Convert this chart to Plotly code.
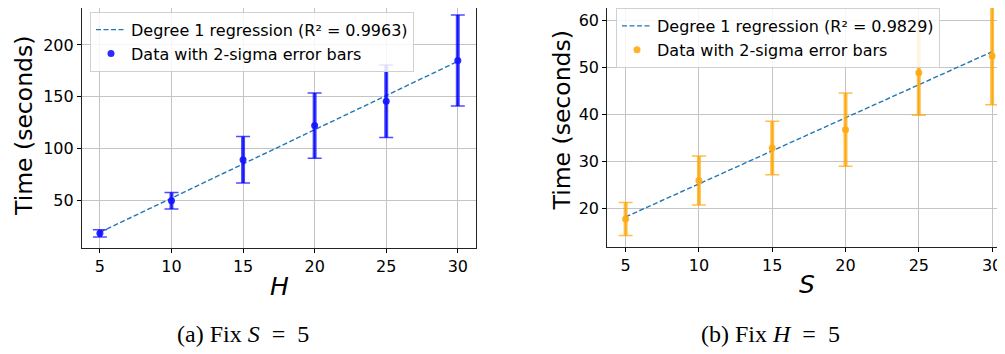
import numpy as np
import plotly.graph_objects as go

# ---- data ----
H_vals = [5, 10, 15, 20, 25, 30]
time_H = [17.8, 49.3, 89.0, 122.0, 145.5, 185.0]
err_H = [3.5, 8.0, 22.5, 31.5, 35.0, 44.0]
r2_H = "0.9963"

S_vals = [5, 10, 15, 20, 25, 30]
time_S = [17.8, 26.0, 32.9, 36.8, 48.9, 52.5]
err_S = [3.5, 5.2, 5.7, 7.8, 9.0, 10.4]
r2_S = "0.9829"

yticks_H = [50, 100, 150, 200]
yticks_S = [20, 30, 40, 50, 60]
xticks = [5, 10, 15, 20, 25, 30]

W, Hh = 1005, 354
OFF = 8  # page body margin offset
FONT = "DejaVu Sans"


def fit(x, y):
    c = np.polyfit(x, y, 1)
    return list(np.polyval(c, x))


fig = go.Figure()


def add_panel(x, y, e, r2, col_bar, col_pt, xa, ya, leg):
    fig.add_trace(go.Scatter(x=x, y=fit(x, y), mode="lines",
                             line=dict(color="#1f77b4", width=1.4, dash="5px,2.5px"),
                             name=f"Degree 1 regression (R² = {r2})",
                             xaxis=xa, yaxis=ya, legend=leg))
    # thin caps
    fig.add_trace(go.Scatter(x=x, y=y, mode="markers",
                             marker=dict(size=1, color="rgba(0,0,0,0)"),
                             error_y=dict(type="data", array=e, visible=True,
                                          color=col_bar, thickness=1.5, width=7),
                             showlegend=False, xaxis=xa, yaxis=ya, hoverinfo="skip"))
    # thick bars + points
    fig.add_trace(go.Scatter(x=x, y=y, mode="markers",
                             marker=dict(size=7, color=col_pt),
                             error_y=dict(type="data", array=e, visible=True,
                                          color=col_bar, thickness=4, width=0),
                             name="Data with 2-sigma error bars",
                             xaxis=xa, yaxis=ya, legend=leg))


add_panel(H_vals, time_H, err_H, r2_H, "rgba(0,0,255,0.7)", "rgba(20,20,255,0.9)", "x", "y", "legend")
add_panel(S_vals, time_S, err_S, r2_S, "rgba(255,165,0,0.7)", "rgba(255,170,20,0.9)", "x2", "y2", "legend2")

axis_common = dict(showgrid=True, gridcolor="#c4c4c4", gridwidth=1,
                   ticks="outside", ticklen=4, tickcolor="black",
                   tickfont=dict(family=FONT, size=16, color="black"),
                   showline=True, linecolor="#222222", linewidth=1.2, zeroline=False,
                   automargin=False)

# screen pixel -> paper fraction (compensating the page offset)
px = lambda v: (v - OFF) / W
py = lambda v: (Hh - (v - OFF)) / Hh

ann = []
def txt(t, x, y, size, family=FONT, angle=0):
    ann.append(dict(text=t, x=px(x), y=py(y), xref="paper", yref="paper",
                    xanchor="center", yanchor="middle", textangle=angle,
                    showarrow=False, font=dict(family=family, size=size, color="black")))

txt("Time (seconds)", 24, 126, 23.5, angle=-90)
txt("Time (seconds)", 561.5, 121, 23.5, angle=-90)
txt("<i>H</i>", 279, 286.5, 25)
txt("<i>S</i>", 807, 284.5, 25)
txt("(a) Fix <i>S</i>&nbsp;&nbsp;=&nbsp;&nbsp;5", 243, 334, 24, family="Liberation Serif")
txt("(b) Fix <i>H</i>&nbsp;&nbsp;=&nbsp;&nbsp;5", 770, 334, 24, family="Liberation Serif")

fig.update_layout(
    width=W, height=Hh,
    margin=dict(l=0, r=0, t=0, b=0),
    paper_bgcolor="white", plot_bgcolor="white",
    font=dict(family=FONT, color="black"),
    xaxis=dict(domain=[px(82), px(475.7)], range=[3.75, 31.25], tickvals=xticks,
               mirror=True, anchor="y", **axis_common),
    yaxis=dict(domain=[py(248), 1.0], range=[3.6, 240.1 - max(0, OFF - 3.5) / 1.033],
               tickvals=yticks_H, mirror=True, anchor="x", **axis_common),
    xaxis2=dict(domain=[px(607.3), px(1005)], range=[3.75, 30.88], tickvals=xticks,
                anchor="y2", **axis_common),
    yaxis2=dict(domain=[py(246.7), 1.0], range=[11.9, 64.4 - OFF / 4.7], tickvals=yticks_S,
                anchor="x2", **axis_common),
    legend=dict(x=px(90), y=py(11.7), xanchor="left", yanchor="top",
                bgcolor="rgba(255,255,255,0.85)", bordercolor="#d0d0d0", borderwidth=1,
                font=dict(family=FONT, size=16), tracegroupgap=0),
    legend2=dict(x=px(616), y=min(1.0, py(5)), xanchor="left", yanchor="top",
                 bgcolor="rgba(255,255,255,0.85)", bordercolor="#d0d0d0", borderwidth=1,
                 font=dict(family=FONT, size=16), tracegroupgap=0),
    annotations=ann,
)

fig.write_html("out.html")
